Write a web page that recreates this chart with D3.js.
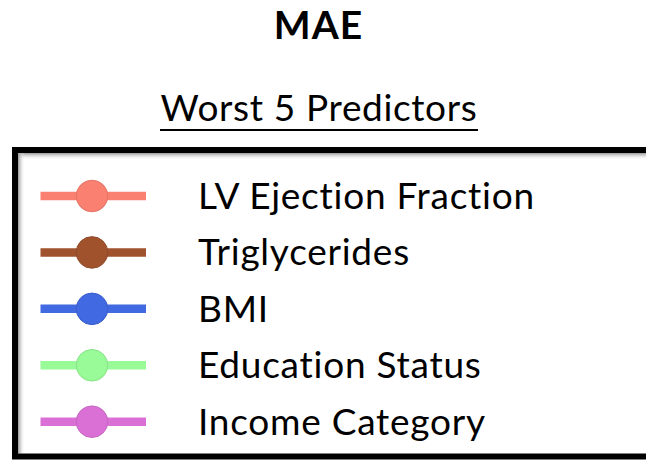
<!DOCTYPE html>
<html>
<head>
<meta charset="utf-8">
<script src="https://cdn.jsdelivr.net/npm/d3@7"></script>
<style>
  body { margin: 0; background: #fff; }
  text { font-family: Lato, "Open Sans", sans-serif; fill: #000; font-variant-ligatures: none; }
</style>
</head>
<body>
<div id="chart"></div>
<script>
window.w = 646;
window.h = 460;

// legend content
const title = "MAE";
const subtitle = "Worst 5 Predictors";
const predictors = ["LV Ejection Fraction", "Triglycerides", "BMI", "Education Status", "Income Category"];
const colors = ["#fa8072", "#a0522d", "#4169e1", "#98fb98", "#da70d6"];

const chart = d3.select("#chart")
              .append("svg")
              .attr("width", w)
              .attr("height", h);

const defs = chart.append("defs");
const gTop = defs.append("linearGradient").attr("id", "shTop")
    .attr("x1", 0).attr("y1", 0).attr("x2", 0).attr("y2", 1);
gTop.append("stop").attr("offset", 0).attr("stop-color", "#999");
gTop.append("stop").attr("offset", 1).attr("stop-color", "#fff").attr("stop-opacity", 0);
const gLeft = defs.append("linearGradient").attr("id", "shLeft")
    .attr("x1", 0).attr("y1", 0).attr("x2", 1).attr("y2", 0);
gLeft.append("stop").attr("offset", 0).attr("stop-color", "#999");
gLeft.append("stop").attr("offset", 1).attr("stop-color", "#fff").attr("stop-opacity", 0);

chart.append("text")
    .attr("x", 318.5)
    .attr("y", 39)
    .attr("text-anchor", "middle")
    .attr("font-size", 39)
    .attr("letter-spacing", 1)
    .attr("font-weight", "bold")
    .text(title);

chart.append("text")
    .attr("x", 319)
    .attr("y", 120.5)
    .attr("text-anchor", "middle")
    .attr("font-size", 37)
    .attr("letter-spacing", 0.65)
    .text(subtitle);

chart.append("rect")
    .attr("x", 160).attr("y", 129)
    .attr("width", 318).attr("height", 2)
    .attr("fill", "#000");

// legend box with inner shadow
const box = {x: 15, y: 150, right: 660, bottom: 456.5};
chart.append("rect")
    .attr("x", box.x + 3).attr("y", box.y + 3)
    .attr("width", box.right - box.x).attr("height", 7)
    .attr("fill", "url(#shTop)");
chart.append("rect")
    .attr("x", box.x + 3).attr("y", box.y + 3)
    .attr("width", 7).attr("height", box.bottom - box.y - 6)
    .attr("fill", "url(#shLeft)");
chart.append("rect")
    .attr("x", box.x).attr("y", box.y)
    .attr("width", box.right - box.x).attr("height", box.bottom - box.y)
    .attr("fill", "none")
    .attr("stroke", "#000")
    .attr("stroke-width", 6);

const yScale = d3.scalePoint()
    .domain(predictors)
    .range([196, 421.7]);

const color = d3.scaleOrdinal()
    .domain(predictors)
    .range(colors);

const item = chart.selectAll(".item")
    .data(predictors)
    .enter().append("g")
    .attr("class", "item")
    .attr("transform", d => "translate(0," + yScale(d) + ")");

item.append("line")
    .attr("x1", 40.5).attr("x2", 146)
    .attr("stroke", d => color(d))
    .attr("stroke-width", 8.5);

item.append("circle")
    .attr("cx", 92)
    .attr("r", 15.8)
    .attr("fill", d => color(d))
    .attr("stroke", d => d3.color(color(d)).darker(0.3))
    .attr("stroke-width", 1);

item.append("text")
    .attr("x", 198)
    .attr("y", 13)
    .attr("font-size", 37)
    .attr("letter-spacing", 0.75)
    .text(d => d);
</script>
</body>
</html>
